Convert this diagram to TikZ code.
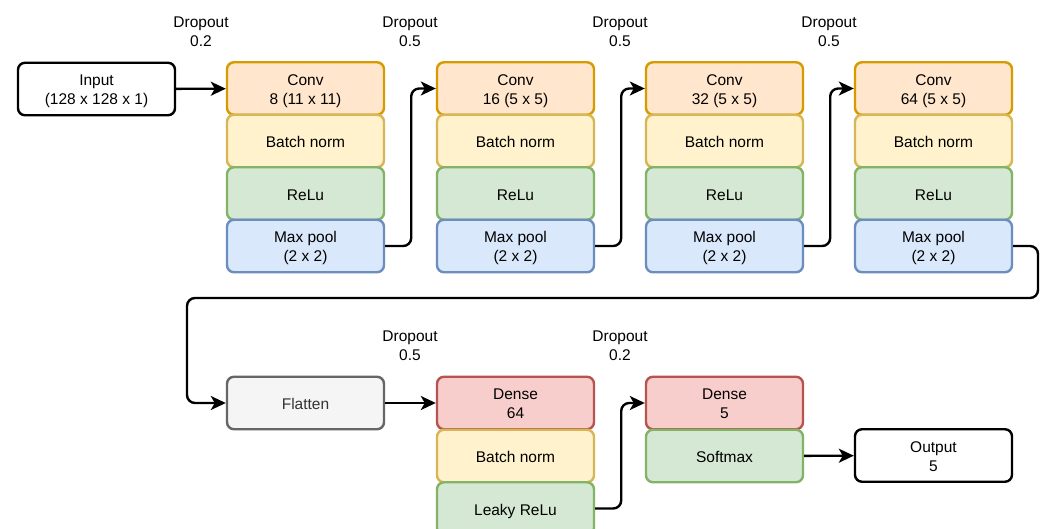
\documentclass[tikz,border=0pt]{standalone}
\usepackage{fontspec}
\setmainfont{Liberation Sans}
\usetikzlibrary{arrows.meta}
\definecolor{orF}{HTML}{FFE6CC}\definecolor{orD}{HTML}{D79B00}
\definecolor{yeF}{HTML}{FFF2CC}\definecolor{yeD}{HTML}{D6B656}
\definecolor{grF}{HTML}{D5E8D4}\definecolor{grD}{HTML}{82B366}
\definecolor{blF}{HTML}{DAE8FC}\definecolor{blD}{HTML}{6C8EBF}
\definecolor{reF}{HTML}{F8CECC}\definecolor{reD}{HTML}{B85450}
\definecolor{gyF}{HTML}{F5F5F5}\definecolor{gyD}{HTML}{666666}
\definecolor{gyT}{HTML}{333333}
% one-line and two-line labels, baseline placed relative to the node centre
\newcommand\Tone[1]{\raisebox{-6.5pt}[0pt][0pt]{#1}}
\newcommand\Ttwo[1]{\raisebox{3.1pt}[0pt][0pt]{\begin{tabular}[t]{@{}c@{}}#1\end{tabular}}}
\tikzset{
  box/.style={rounded corners=7pt, line width=2.4pt, minimum width=157pt, minimum height=52.5pt,
    align=center, inner sep=0pt, font=\fontsize{15.5}{19}\selectfont},
  conv/.style={box, fill=orF, draw=orD},
  bn/.style={box, fill=yeF, draw=yeD},
  act/.style={box, fill=grF, draw=grD},
  pool/.style={box, fill=blF, draw=blD},
  dense/.style={box, fill=reF, draw=reD},
  flat/.style={box, fill=gyF, draw=gyD, text=gyT},
  io/.style={box, fill=white, draw=black},
  drop/.style={align=center, inner sep=0pt, font=\fontsize{15.5}{19}\selectfont},
  conn/.style={line width=2.4pt, rounded corners=8pt, -{Stealth[length=15pt, width=14pt, inset=4pt]}}
}
\begin{document}
\begin{tikzpicture}[x=1pt,y=-1pt]
\clip (0,0) rectangle (1047,528);
\fill[white] (0,0) rectangle (1047,528);
% row 1
\node[io] (in) at (96.5,89) {\Ttwo{Input\\(128 x 128 x 1)}};
\foreach \i/\x/\f in {1/305.5/8 (11 x 11),2/515.5/16 (5 x 5),3/724.5/32 (5 x 5),4/933.5/64 (5 x 5)}{
  \node[conv] (c\i) at (\x,88.5) {\Ttwo{Conv\\\f}};
  \node[bn] (b\i) at (\x,141) {\Tone{Batch norm}};
  \node[act] (r\i) at (\x,193.5) {\Tone{ReLu}};
  \node[pool] (m\i) at (\x,246) {\Ttwo{Max pool\\(2 x 2)}};
}
\node[drop] (d1) at (201,31.5) {Dropout\\0.2};
\node[drop] (d2) at (410,31.5) {Dropout\\0.5};
\node[drop] (d3) at (620,31.5) {Dropout\\0.5};
\node[drop] (d4) at (829,31.5) {Dropout\\0.5};
% row 2
\node[flat] (fl) at (305.5,403) {\Tone{Flatten}};
\node[dense] (de1) at (515.5,403) {\Ttwo{Dense\\64}};
\node[bn] (bn5) at (515.5,456) {\Tone{Batch norm}};
\node[act] (lr) at (515.5,508.5) {\Tone{Leaky ReLu}};
\node[dense] (de2) at (724.5,403) {\Ttwo{Dense\\5}};
\node[act] (sm) at (724.5,456) {\Tone{Softmax}};
\node[io] (out) at (933.5,455.5) {\Ttwo{Output\\5}};
\node[drop] (d5) at (410,346) {Dropout\\0.5};
\node[drop] (d6) at (620,346) {Dropout\\0.2};
% connectors
\draw[conn] (in) -- (c1);
\draw[conn] (m1.east) -- ++(26,0) |- (c2.west);
\draw[conn] (m2.east) -- ++(26,0) |- (c3.west);
\draw[conn] (m3.east) -- ++(26,0) |- (c4.west);
\coordinate (bR) at (1038,298);
\coordinate (bL) at (187,298);
\draw[conn] (m4.east) -| (bR) -- (bL) |- (fl.west);
\draw[conn] (fl) -- (de1);
\draw[conn] (lr.east) -- ++(26,0) |- (de2.west);
\draw[conn] (sm) -- (out);
\end{tikzpicture}
\end{document}
